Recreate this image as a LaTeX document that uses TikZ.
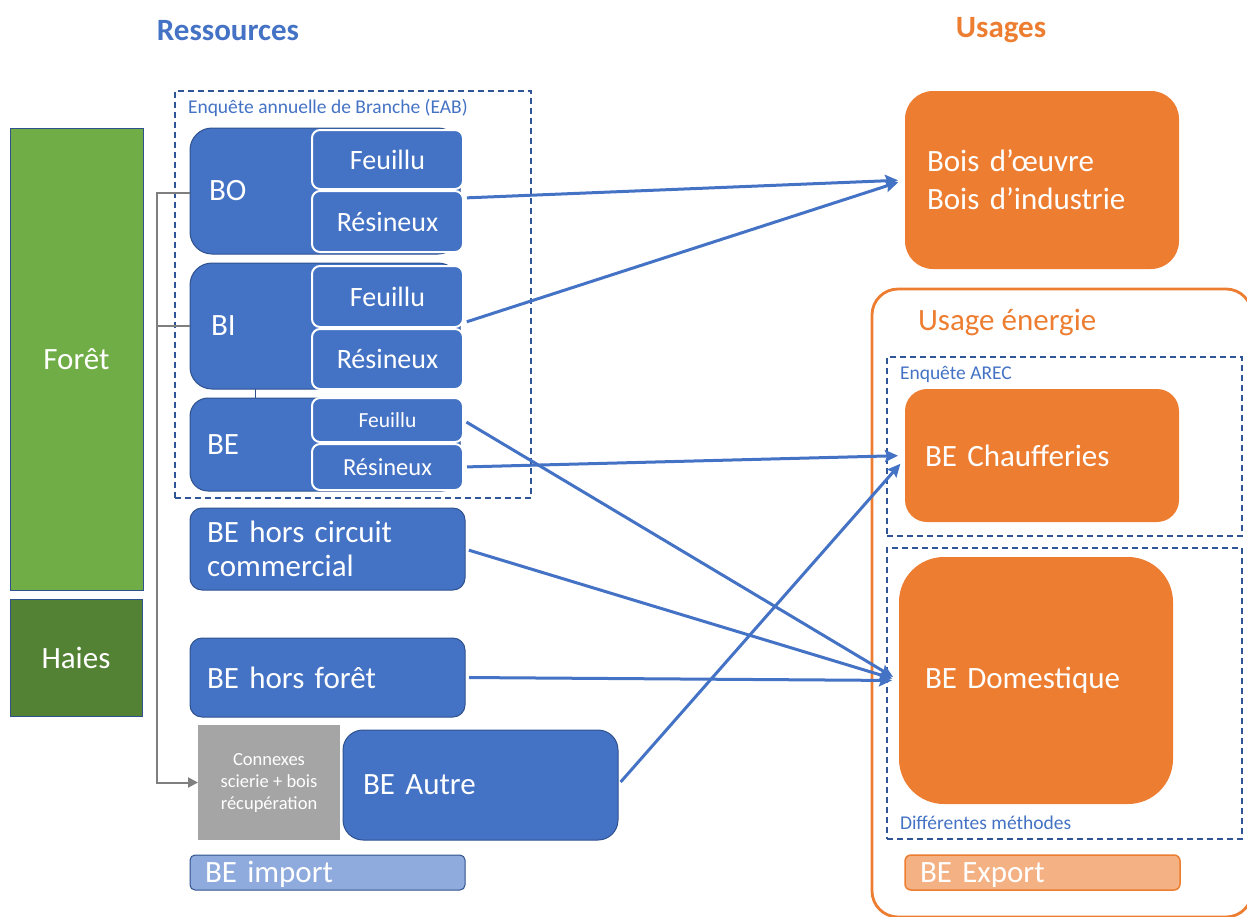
\documentclass[tikz,border=0pt]{standalone}
\usepackage{fontspec}
\setmainfont{Carlito}
\usetikzlibrary{arrows.meta,calc}
\definecolor{cblue}{HTML}{4472C4}
\definecolor{cedge}{HTML}{2F528F}
\definecolor{cdash}{HTML}{2F5597}
\definecolor{corange}{HTML}{ED7D31}
\definecolor{clorange}{HTML}{F4B183}
\definecolor{clblue}{HTML}{8FAADC}
\definecolor{cgreen}{HTML}{70AD47}
\definecolor{cdgreen}{HTML}{548235}
\definecolor{cgray}{HTML}{A5A5A5}
\definecolor{cline}{HTML}{7F7F7F}
\newcommand{\fbig}{\fontsize{31}{38}\selectfont}
\newcommand{\fmid}{\fontsize{28}{34}\selectfont}
\newcommand{\fsmall}{\fontsize{19.5}{23}\selectfont}
% text whose baseline sits a fixed distance below the node centre
\newcommand{\lowtext}[1]{\raisebox{-10pt}[0pt][0pt]{#1}}
\begin{document}
\begin{tikzpicture}[x=1pt,y=-1pt,
  every node/.style={inner sep=0pt,outer sep=0pt},
  blk/.style={draw=cedge,line width=1pt,fill=cblue,anchor=north west,text=white,align=left,font=\fbig},
  sub/.style={draw=white,line width=2pt,fill=cblue,anchor=north west,text=white,rounded corners=8pt,minimum width=151pt,font=\fmid},
  ora/.style={fill=corange,anchor=north west,text=white,align=left,font=\fbig},
  src/.style={draw=cedge,line width=0.8pt,anchor=north west,text=white,font=\fbig,align=center},
  dbox/.style={draw=cdash,dash pattern=on 6pt off 4pt,line width=1.2pt,anchor=north west},
  lab/.style={anchor=west,text=cblue,font=\fsmall},
  arr/.style={draw=cblue,line width=3pt,-{Stealth[length=13pt,width=12pt,inset=2pt]},shorten >=7pt,shorten <=4pt},
  gline/.style={draw=cline,line width=2pt}]
\useasboundingbox (0,0) rectangle (1247,916);
\clip (0,0) rectangle (1247,916);

% column titles
\node[font=\fbig\bfseries,text=cblue] (tres) at (228,31) {Ressources};
\node[font=\fbig\bfseries,text=corange] (tuse) at (1001,30) {Usages};

% origins
\node[src,fill=cgreen,minimum width=133pt,minimum height=462pt] (foret) at (10,128) {Forêt};
\node[src,fill=cdgreen,minimum width=132pt,minimum height=117pt] (haies) at (10,599) {Haies};

% annual branch survey
\node[dbox,minimum width=356pt,minimum height=407pt] (eab) at (175,91) {};
\node[lab] (eablab) at (188,108) {Enquête annuelle de Branche (EAB)};

\node[blk,minimum height=126pt,text width=232pt,inner xsep=19pt,rounded corners=22pt] (bo) at (190,128) {BO};
\node[blk,minimum height=126pt,text width=228pt,inner xsep=21pt,rounded corners=22pt] (bi) at (190,263) {BI};
\node[blk,minimum height=93pt,text width=236pt,inner xsep=17pt,rounded corners=18pt] (be) at (190,398) {BE};
\draw[draw=cedge,line width=1pt] ($(bi.south west)+(65,0)$) -- ($(be.north west)+(65,0)$);

\node[sub,minimum height=59pt] (bofeu) at (312,130) {Feuillu};
\node[sub,minimum height=61pt] (bores) at (312,191) {Résineux};
\node[sub,minimum height=61pt] (bifeu) at (312,266) {Feuillu};
\node[sub,minimum height=60pt] (bires) at (312,329) {Résineux};
\node[sub,minimum height=44pt,font=\fontsize{21.5}{26}\selectfont] (befeu) at (312,398) {Feuillu};
\node[sub,minimum height=46pt,font=\fontsize{24.5}{29}\selectfont] (beres) at (312,444) {Résineux};

% other resources
\node[blk,minimum height=82pt,text width=241pt,inner xsep=17pt,rounded corners=12pt,font=\fontsize{31}{34}\selectfont] (hc) at (190,508) {BE hors circuit\\commercial};
\node[blk,minimum height=79pt,text width=241pt,inner xsep=17pt,rounded corners=12pt] (hf) at (190,638) {BE hors forêt};
\node[fill=cgray,anchor=north west,minimum width=142pt,minimum height=115pt,text=white,align=center,font=\fontsize{18.5}{22}\selectfont] (cnx) at (198,725) {Connexes\\scierie + bois\\récupération};
\node[blk,minimum height=110pt,text width=235pt,inner xsep=20pt,rounded corners=20pt] (autre) at (343,730) {BE Autre};
\node[blk,fill=clblue,minimum height=35pt,text width=245pt,inner xsep=15pt,rounded corners=5pt] (imp) at (190,855) {\lowtext{BE import}};

% grey feed lines
\coordinate (gx) at (157,0);
\draw[gline,-{Triangle[length=10pt,width=10pt]}] ($(bo.west)+(0,2)$) -- ($(bo.west -| gx)+(0,2)$) |- (cnx.west);
\draw[gline] (bi.west) -- (bi.west -| gx);

% uses
\node[ora,minimum height=178pt,text width=230pt,inner xsep=22pt,rounded corners=28pt] (bois) at (905,91) {Bois d’œuvre\\Bois d’industrie};
\node[draw=corange,line width=2.8pt,rounded corners=26pt,anchor=north west,minimum width=380pt,minimum height=628pt] (energie) at (872,289) {};
\node[anchor=west,text=corange,font=\fbig] (energielab) at (918,322) {Usage énergie};

\node[dbox,minimum width=355pt,minimum height=179pt] (arec) at (887,357) {};
\node[lab] (areclab) at (900,374) {Enquête AREC};
\node[ora,minimum height=133pt,text width=234pt,inner xsep=20pt,rounded corners=22pt] (chauf) at (905,389) {BE Chaufferies};

\node[dbox,minimum width=355pt,minimum height=291pt] (meth) at (887,548) {};
\node[ora,minimum height=247pt,text width=222pt,inner xsep=26pt,rounded corners=45pt] (dom) at (899,557) {BE Domestique};
\node[lab] (methlab) at (900,823) {Différentes méthodes};

\node[ora,fill=clorange,draw=corange,line width=1.5pt,minimum height=35pt,text width=245pt,inner xsep=15pt,rounded corners=6pt] (exp) at (905,855) {\lowtext{BE Export}};

% flows
\draw[arr] ($(bores.north east)+(0,7)$) -- (bois.west);
\draw[arr] ($(bifeu.south east)+(0,-4)$) -- (bois.west);
\draw[arr] (befeu.east) -- (dom.west);
\draw[arr] (beres.east) -- (chauf.west);
\draw[arr] (hc.east) -- (dom.west);
\draw[arr] (hf.east) -- (dom.west);
\draw[arr] (autre.east) -- ($(chauf.west)+(0,3)$);
\end{tikzpicture}
\end{document}
